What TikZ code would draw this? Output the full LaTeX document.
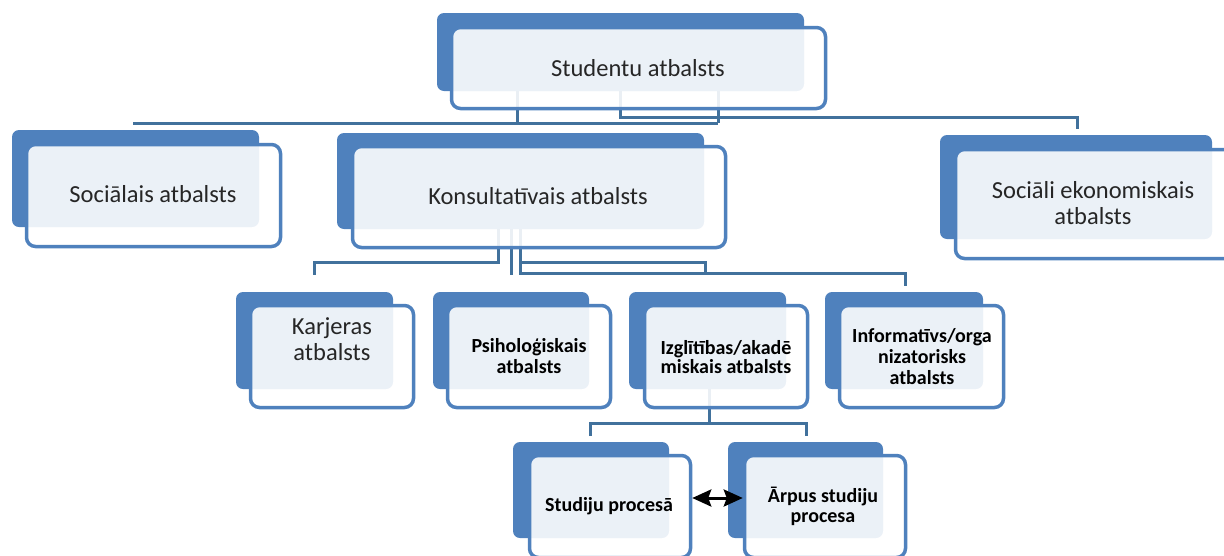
\documentclass[tikz,border=0pt]{standalone}
\usepackage{fontspec}
\setmainfont{Carlito}
\usetikzlibrary{arrows.meta}
\definecolor{tierblue}{HTML}{4F81BD}
\definecolor{linkblue}{HTML}{41719C}
\tikzset{
  backbox/.style={fill=tierblue, draw=none, rounded corners=7pt, inner sep=0pt},
  frontbox/.style={draw=tierblue, line width=3.5pt, fill=white, fill opacity=0.89,
    text opacity=1, rounded corners=9pt, inner sep=0pt},
  bigtext/.style={inner sep=0pt, align=center, text=black!85,
    font=\fontsize{24.5}{26}\selectfont},
  smalltext/.style={inner sep=0pt, align=center, text=black,
    font=\fontsize{20}{21}\selectfont\bfseries},
  link/.style={draw=linkblue, line width=3pt},
  twohead/.tip={Stealth[length=19pt, width=17pt, inset=3pt]},
  bothways/.style={twohead-twohead, line width=3pt, draw=black}
}
\begin{document}
\begin{tikzpicture}[x=1pt, y=-1pt]
\useasboundingbox (0,0) rectangle (1224,555);

% junction points of the tree links
\coordinate (s1) at (517,80);   \coordinate (s2) at (620,80);   \coordinate (s3) at (718,80);
\coordinate (sl) at (133,123);  \coordinate (sr) at (1077,129);
\coordinate (k1) at (498,215);  \coordinate (k2) at (511,215);  \coordinate (k3) at (520,215);
\coordinate (ka) at (314,275);  \coordinate (kb) at (511,275);  \coordinate (kc) at (705,273);
\coordinate (kd) at (905,286);
\coordinate (i1) at (709,380);  \coordinate (il) at (590,436);  \coordinate (ir) at (806,436);

% links (drawn first so the boxes sit over them)
\draw[link] (s1) -- (s1 |- sl);
\draw[link] (sl) -- (s3 |- sl);
\draw[link] (s3) -- (s3 |- sl);
\draw[link] (s2) |- (1077,117) -- (sr);
\draw[link] (k1) |- (314,262) -- (ka);
\draw[link] (k2) -- (kb);
\draw[link] (k3) |- (705,262) -- (kc);
\draw[link] (k3) |- (905,273) -- (kd);
\draw[link] (i1) -- (709,423);
\draw[link] (il) |- (709,423) -| (ir);

% level 1
\node[backbox, minimum width=367pt, minimum height=78pt] (studB) at (620.5,52) {};
\node[frontbox, minimum width=374pt, minimum height=81pt] (stud) at (638.5,68) {};
\node[bigtext] (studT) at (638,68) {Studentu atbalsts};

% level 2
\node[backbox, minimum width=247pt, minimum height=97pt] (socB) at (135.5,178.5) {};
\node[frontbox, minimum width=254pt, minimum height=102pt] (soc) at (153.5,195.5) {};
\node[bigtext] (socT) at (153,194) {Sociālais atbalsts};

\node[backbox, minimum width=367pt, minimum height=96pt] (konsB) at (520.5,181) {};
\node[frontbox, minimum width=373pt, minimum height=101pt] (kons) at (539,197) {};
\node[bigtext] (konsT) at (538,196) {Konsultatīvais atbalsts};

\node[backbox, minimum width=272pt, minimum height=104pt] (socekB) at (1076,187) {};
\node[frontbox, minimum width=278pt, minimum height=109pt] (socek) at (1094.5,204) {};
\node[bigtext, font=\fontsize{24.5}{25.5}\selectfont] (socekT) at (1093,203) {Sociāli ekonomiskais\\atbalsts};

% level 3
\node[backbox, minimum width=157pt, minimum height=97pt] (karjB) at (314.5,340.5) {};
\node[frontbox, minimum width=163pt, minimum height=102pt] (karj) at (332,356.5) {};
\node[bigtext] (karjT) at (332,339) {Karjeras\\atbalsts};

\node[backbox, minimum width=156pt, minimum height=97pt] (psihB) at (511,340.5) {};
\node[frontbox, minimum width=163pt, minimum height=102pt] (psih) at (529,356.5) {};
\node[smalltext] (psihT) at (529,356) {Psiholoģiskais\\atbalsts};

\node[backbox, minimum width=157pt, minimum height=97pt] (izglB) at (707.5,340.5) {};
\node[frontbox, minimum width=163pt, minimum height=102pt] (izgl) at (726,356.5) {};
\node[smalltext, font=\fontsize{20}{19}\selectfont\bfseries] (izglT) at (726,357) {Izglītības/akadē\\miskais atbalsts};

\node[backbox, minimum width=158pt, minimum height=97pt] (infoB) at (904,340.5) {};
\node[frontbox, minimum width=164pt, minimum height=102pt] (info) at (921.5,356.5) {};
\node[smalltext] (infoT) at (922,357) {Informatīvs/orga\\nizatorisks\\atbalsts};

% level 4
\node[backbox, minimum width=156pt, minimum height=96pt] (stprocB) at (591,490) {};
\node[frontbox, minimum width=161pt, minimum height=102pt] (stproc) at (610,506.5) {};
\node[smalltext] (stprocT) at (609,506) {Studiju procesā};

\node[backbox, minimum width=155pt, minimum height=96pt] (arpusB) at (805.5,490) {};
\node[frontbox, minimum width=161pt, minimum height=102pt] (arpus) at (825,506.5) {};
\node[smalltext, font=\fontsize{20}{20}\selectfont\bfseries] (arpusT) at (823,506) {Ārpus studiju\\procesa};

% two-way link between the study settings
\draw[bothways] ([yshift=8.5pt]stproc.east) -- ([yshift=8.5pt]arpus.west);
\end{tikzpicture}
\end{document}
